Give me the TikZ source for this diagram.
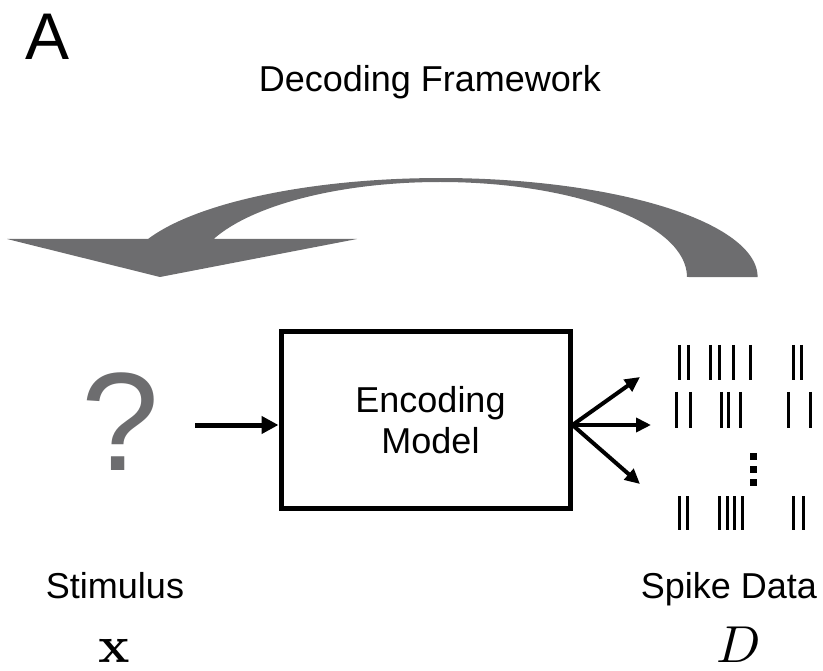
\documentclass[tikz,border=0pt]{standalone}
\usepackage{amsmath}
\usepackage[no-math]{fontspec}
\setmainfont{Liberation Sans}
\usetikzlibrary{arrows.meta}
\definecolor{bendgray}{RGB}{109,109,111}

\begin{document}
\begin{tikzpicture}[x=1pt, y=-1pt,
    lbl/.style={font=\fontsize{36}{41}\selectfont, inner sep=0pt},
    mathlbl/.style={inner sep=0pt, anchor=base, font=\fontsize{10}{12}\selectfont, scale=5.2},
    model/.style={draw, line width=5pt, minimum width=289pt, minimum height=176pt, align=center, inner sep=0pt},
    spike/.style={line width=3pt},
    thick arrow/.style={line width=5pt, -{Triangle[length=17pt,width=17pt]}},
    out arrow/.style={line width=4pt, -{Triangle[length=15pt,width=14pt]}}]
        \useasboundingbox (0,0) rectangle (823,671);

        % Labels
        \node (panel) [lbl, font=\fontsize{66}{70}\selectfont, anchor=base] at (48,60) {A};
        \node (title) [lbl, anchor=base] at (430,92) {Decoding Framework};
        \node (stim) [lbl, anchor=base] at (115,598) {Stimulus};
        \node (data) [lbl, anchor=base] at (729,598) {Spike Data};
        \node (xvar) [mathlbl] at (114,662) {$\mathbf{x}$};
        \node (dvar) [mathlbl] at (739,662) {$D$};

        % Nodes
        \node (query) [inner sep=0pt, text=bendgray, font=\fontsize{140}{140}\selectfont] at (120,422) {?};
        \node (enc) [model, font=\fontsize{36}{41}\selectfont] at (425.5,420) {\hspace*{10pt}Encoding\\\hspace*{10pt}Model};

        % Big gray arrow
        \fill[bendgray] (7,239) -- (148,239)
            arc[start angle=157.4, end angle=0, x radius=317pt, y radius=99pt]
            -- (687,277)
            arc[start angle=0, end angle=156.4, x radius=247pt, y radius=95pt]
            -- (357,239) -- (160,277) -- cycle;

        % Arrows
        \coordinate (in) at (195,425);
        \coordinate (r1) at (640,377);
        \coordinate (r2) at (651,425);
        \coordinate (r3) at (640,484);
        \draw [thick arrow] (in) -- (in -| enc.west);
        \coordinate (fan) at (enc.east |- in);
        \draw [out arrow] (fan) -- (r1);
        \draw [out arrow] (fan) -- (r2);
        \draw [out arrow] (fan) -- (r3);

        % Spike raster
        \foreach \t in {679,688,710,719,733,750,793,801}
            \draw [spike] (\t,345) -- (\t,380);
        \foreach \t in {676,690,721,728,740,788,810}
            \draw [spike] (\t,392) -- (\t,428);
        \foreach \t in {679,687,719,727,734,742,793,803}
            \draw [spike] (\t,496) -- (\t,530);
        \foreach \d in {456,469,482}
            \fill (749.5,\d-3.5) rectangle ++(7,7);
    \end{tikzpicture}
\end{document}
